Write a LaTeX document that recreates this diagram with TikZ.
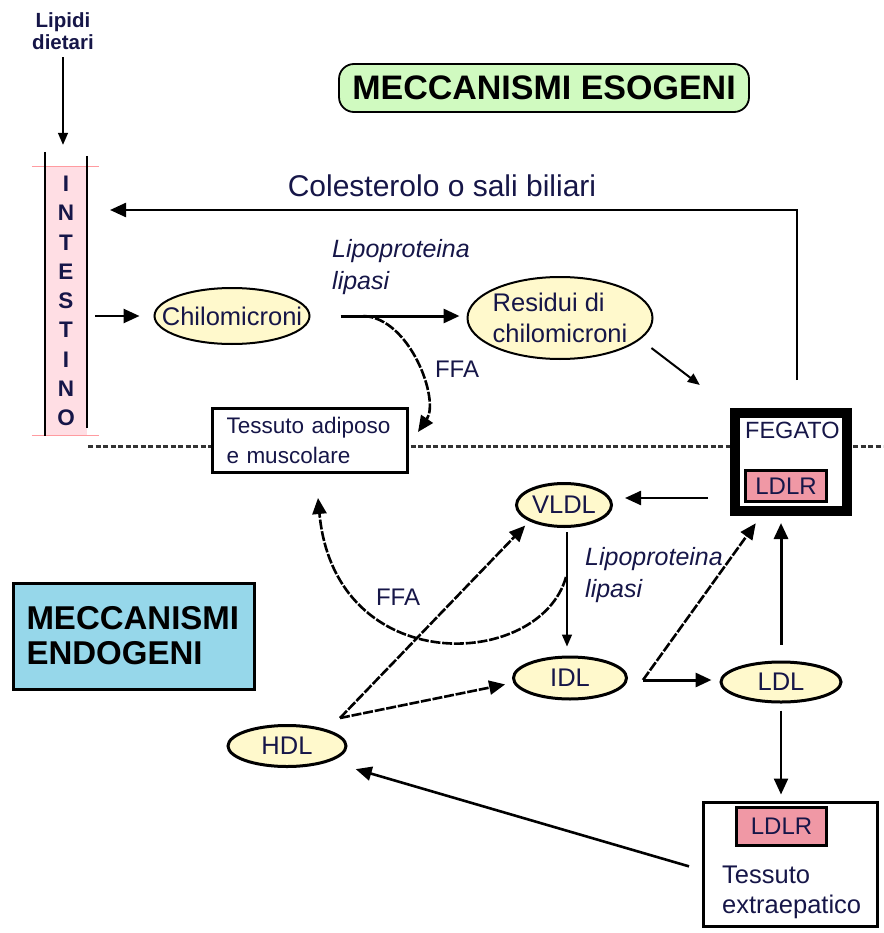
\documentclass[tikz,border=0pt]{standalone}
\usepackage{fontspec}
\setmainfont{Liberation Sans}
\usetikzlibrary{arrows.meta,shapes.geometric}

\definecolor{lipoyellow}{RGB}{255,249,204}
\definecolor{headgreen}{RGB}{208,250,192}
\definecolor{endoblue}{RGB}{150,215,234}
\definecolor{ldlrpink}{RGB}{240,152,165}
\definecolor{gutpink}{RGB}{255,222,228}
\definecolor{inkblue}{RGB}{22,22,72}

\begin{document}
\begin{tikzpicture}[x=1pt,y=-1pt,
  lipo/.style={ellipse, draw, fill=lipoyellow, line width=2pt, inner sep=0pt},
  lipotxt/.style={font=\fontsize{25.5}{31}\selectfont, text=inkblue, align=left},
  lpltxt/.style={font=\itshape\fontsize{25}{32}\selectfont, text=inkblue, align=left, inner sep=0pt, anchor=north west},
  ldlrbox/.style={draw, line width=3pt, fill=ldlrpink, inner sep=0pt, font=\fontsize{24}{24}\selectfont, text=inkblue},
  arr/.style={line width=2.6pt, -{Triangle[length=16pt,width=14pt]}},
  thinarr/.style={line width=1.5pt, -{Triangle[length=12pt,width=10pt]}},
  brokenarr/.style={line width=2.6pt, dash pattern=on 10pt off 1.8pt, -{Triangle[length=16pt,width=14pt]}},
  divider/.style={line width=3pt, black!80, dash pattern=on 5pt off 2.5pt}]

\useasboundingbox (0,0) rectangle (883,933);

% intestino
 \node[font=\bfseries\fontsize{20.5}{22}\selectfont, align=center, text=inkblue] (lipidi) at (63,31) {Lipidi\\dietari};
 \node[fill=gutpink, minimum width=42, minimum height=268, inner sep=0pt, align=center,
       font=\bfseries\fontsize{22.5}{29.25}\selectfont, text=inkblue] (gut) at (66,301) {I\\N\\T\\E\\S\\T\\I\\N\\O};
  \draw[gutpink!70!red, line width=1pt] ([xshift=-13pt]gut.north west) -- ([xshift=12pt]gut.north east);
  \draw[gutpink!70!red, line width=1pt] ([xshift=-13pt]gut.south west) -- ([xshift=12pt]gut.south east);
  \draw[line width=2.2pt] ([yshift=15pt]gut.north west) -- ([yshift=-1pt]gut.south west);
  \draw[line width=2.2pt] ([yshift=11pt]gut.north east) -- ([yshift=7pt]gut.south east);
 \draw[thinarr, shorten <=4pt, shorten >=22pt] (lipidi.south) -- (lipidi.south |- gut.north);

 \node[draw, line width=1.8pt, rounded corners=15pt, fill=headgreen, minimum width=410, minimum height=48,
       inner sep=0pt, font=\bfseries\fontsize{34}{34}\selectfont] (esogeni) at (544,88) {MECCANISMI ESOGENI};

% linea di separazione
 \coordinate (divl) at (88,446);
 \coordinate (divr) at (883,446);
 \draw[divider] (divl) -- (divr);

% fegato
 \node[draw, line width=10pt, fill=white, minimum width=112, minimum height=98, inner sep=0pt] (fegato) at (791,462) {};
 \node[font=\fontsize{23.5}{24}\selectfont, text=inkblue, anchor=north west, inner sep=0pt] (fegatolab) at (745,422) {FEGATO};
 \node[ldlrbox, minimum width=81, minimum height=31] (ldlr1) at (786,486) {LDLR};

 \node[font=\fontsize{30}{30}\selectfont, text=inkblue] (bilelab) at (442,186) {Colesterolo o sali biliari};
 \coordinate (bileend) at (110,210);
 \draw[arr, line width=2.4pt] ([xshift=6pt,yshift=28pt]fegato.north) |- (bileend);

% via esogena
 \node[lipo, minimum width=155, minimum height=56, label={[lipotxt]center:Chilomicroni}] (chilo) at (232,316) {};
 \node[lipo, minimum width=185, minimum height=82, label={[lipotxt]center:Residui di\\chilomicroni}] (res) at (560,318) {};
 \draw[arr, shorten <=8pt, shorten >=14pt] (gut.east |- chilo) -- (chilo.west);
 \draw[arr, line width=3pt, shorten <=30pt, shorten >=7pt] (chilo.east) -- (chilo.east -| res.west);
 \node[lpltxt] (lpl1lab) at (332,239) {Lipoproteina\\lipasi};
 \draw[thinarr, line width=2pt, shorten <=14pt, shorten >=38pt] (res.-15) -- (fegato.north west);

 \node[draw, fill=white, line width=3pt, minimum height=64, text width=166, inner xsep=14.5pt, align=left,
       font=\fontsize{22.5}{30}\selectfont, text=inkblue] (adipo) at (309.5,440) {Tessuto adiposo\\e muscolare};
 \coordinate (ffa1end) at (418,432);
 \draw[brokenarr] ([xshift=53pt]chilo.east) .. controls (410,318) and (440,400) .. (ffa1end);
 \node[lipotxt, font=\fontsize{24}{24}\selectfont] (ffa1) at (457,369) {FFA};

% via endogena
 \node[lipo, line width=3pt, minimum width=95, minimum height=43, label={[lipotxt]center:VLDL}] (vldl) at (564,505) {};
 \node[lipo, line width=3pt, minimum width=113, minimum height=42, label={[lipotxt]center:IDL}] (idl) at (570,678) {};
 \node[lipo, line width=3pt, minimum width=120, minimum height=40, label={[lipotxt]center:LDL}] (ldl) at (781,682) {};
 \node[lipo, line width=3pt, minimum width=118, minimum height=41, label={[lipotxt]center:HDL}] (hdl) at (287,746) {};

 \draw[arr, line width=2.4pt, shorten <=22pt, shorten >=12pt] (fegato.west |- 0,498) -- (vldl.east |- 0,498);
 \draw[thinarr, shorten <=4pt, shorten >=9pt] ([xshift=3pt]vldl.south) -- ([xshift=-3pt]idl.north);
 \node[lpltxt] (lpl2lab) at (585,547) {Lipoproteina\\lipasi};

 \coordinate (lpl2) at (566,577);
 \coordinate (ffa2end) at (318,498);
 \draw[brokenarr] (lpl2) .. controls (540,670) and (335,680) .. (ffa2end);
 \node[lipotxt, font=\fontsize{24}{24}\selectfont] (ffa2) at (398,597) {FFA};

 \coordinate (idlfork) at (643,680);
 \draw[arr, line width=3pt, shorten >=8pt] (idlfork) -- (idlfork -| ldl.west);
 \draw[brokenarr, shorten >=9pt] (idlfork) -- ([xshift=-30pt]fegato.south);
 \draw[arr, line width=3pt, shorten <=16pt, shorten >=7pt] (ldl.north) -- (ldl.north |- fegato.south);

 \node[draw, line width=3pt, fill=white, minimum width=174, minimum height=124, inner sep=0pt] (extra) at (790,864) {};
 \node[ldlrbox, minimum width=90, minimum height=38] (ldlr2) at (781.5,826.5) {LDLR};
 \node[font=\fontsize{25.5}{30}\selectfont, text=inkblue, align=left, anchor=north west, inner sep=0pt] (extralab) at (722,866) {Tessuto\\extraepatico};
 \draw[arr, line width=2.4pt, shorten <=7pt, shorten >=6pt] (ldl.south) -- (ldl.south |- extra.north);
 \draw[arr, shorten <=13pt, shorten >=27pt] ([yshift=-6pt]extra.west) -- (hdl.south east);

 \coordinate (hdlfork) at (340,718);
 \draw[brokenarr, shorten >=6pt] (hdlfork) -- (vldl.south west);
 \draw[brokenarr, shorten >=7pt] (hdlfork) -- ([yshift=-5pt]idl.west);

 \node[draw, fill=endoblue, line width=3pt, minimum height=106, text width=214, inner xsep=13.5pt, align=left,
       font=\bfseries\fontsize{33}{35}\selectfont] (endogeni) at (133.5,636) {MECCANISMI\\ENDOGENI};

\end{tikzpicture}
\end{document}
